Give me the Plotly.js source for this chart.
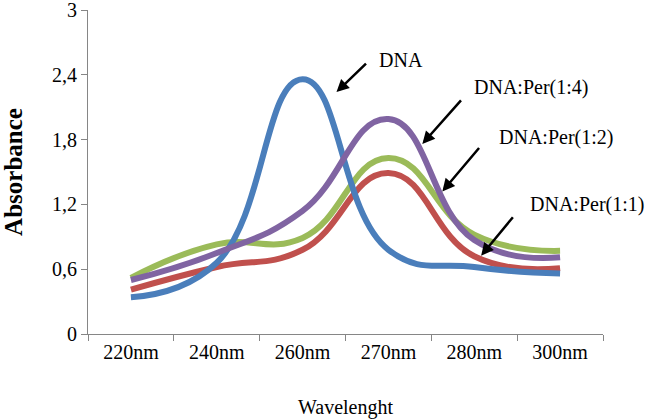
<!DOCTYPE html>
<html>
<head>
<meta charset="utf-8">
<script src="https://cdn.plot.ly/plotly-3.0.1.min.js"></script>
<style>html,body{margin:0;padding:0;background:#fff;}#chart{width:645px;height:420px;}</style>
</head>
<body>
<div id="chart"></div>
<script>
const categories = ['220nm', '240nm', '260nm', '270nm', '280nm', '300nm'];
const dna      = [0.34, 0.66, 2.36, 0.78, 0.62, 0.56];
const per11    = [0.41, 0.62, 0.78, 1.49, 0.72, 0.61];
const per12    = [0.52, 0.83, 0.89, 1.63, 0.92, 0.77];
const per14    = [0.50, 0.75, 1.14, 1.99, 0.87, 0.71];
const yTicks   = [0, 0.6, 1.2, 1.8, 2.4, 3];
const yTickText = ['0', '0,6', '1,2', '1,8', '2,4', '3'];

const serif = '"Liberation Serif", "Times New Roman", serif';

function line(name, y, color) {
  return {
    type: 'scatter', mode: 'lines', name: name,
    x: categories, y: y,
    line: {color: color, width: 6, shape: 'spline', smoothing: 1.3},
    hoverinfo: 'skip'
  };
}

const traces = [
  line('DNA:Per(1:1)', per11, '#C0504D'),
  line('DNA:Per(1:2)', per12, '#9BBB59'),
  line('DNA', dna, '#4A7EBB'),
  line('DNA:Per(1:4)', per14, '#8064A2')
];

function arrow(x, y, ax, ay) {
  return {x: x, y: y, xref: 'x', yref: 'y', text: '', showarrow: true,
    arrowhead: 2, arrowsize: 1, arrowwidth: 2.5, arrowcolor: '#000',
    ax: ax, ay: ay, standoff: 0};
}
function label(txt, x, y) {
  return {x: x, y: y, xref: 'paper', yref: 'paper', text: txt, showarrow: false,
    xanchor: 'left', yanchor: 'middle', font: {family: serif, size: 20, color: '#000'}};
}

// paper coords: plot area x 88..603, y 10..334 in pixels
const px = v => (v - 88) / (603 - 88);
const py = v => (334 - v) / (334 - 10);

const layout = {
  width: 645, height: 420,
  margin: {l: 88, r: 42, t: 10, b: 86},
  paper_bgcolor: '#fff', plot_bgcolor: '#fff',
  showlegend: false,
  font: {family: serif, size: 20, color: '#000'},
  xaxis: {
    type: 'category', range: [-0.5, 5.5],
    showline: true, linecolor: '#868686', linewidth: 1,
    ticks: 'outside', tickson: 'boundaries', ticklen: 6, tickcolor: '#868686',
    showgrid: false, zeroline: false,
    tickfont: {family: serif, size: 20, color: '#000'},
    title: {text: 'Wavelenght', font: {family: serif, size: 20, color: '#000'}, standoff: 37}
  },
  yaxis: {
    range: [0, 3.0001], tickvals: yTicks, ticktext: yTickText,
    ticklabeloverflow: 'allow',
    showline: true, linecolor: '#868686', linewidth: 1,
    ticks: 'outside', ticklen: 6, tickcolor: '#868686',
    showgrid: false, zeroline: false,
    tickfont: {family: serif, size: 20, color: '#000'},
    title: {text: '<b>Absorbance</b>', font: {family: serif, size: 25, color: '#000'}, standoff: 24}
  },
  annotations: [
    arrow(2.395, 2.24, 31, -30),
    arrow(3.395, 1.76, 40, -45),
    arrow(3.628, 1.32, 38, -45),
    arrow(4.08, 0.725, 33, -40),
    label('DNA', px(377), py(60)),
    label('DNA:Per(1:4)', px(472), py(88)),
    label('DNA:Per(1:2)', px(497), py(137)),
    label('DNA:Per(1:1)', px(528), py(204))
  ]
};

Plotly.newPlot('chart', traces, layout, {displayModeBar: false, staticPlot: true});
</script>
</body>
</html>
